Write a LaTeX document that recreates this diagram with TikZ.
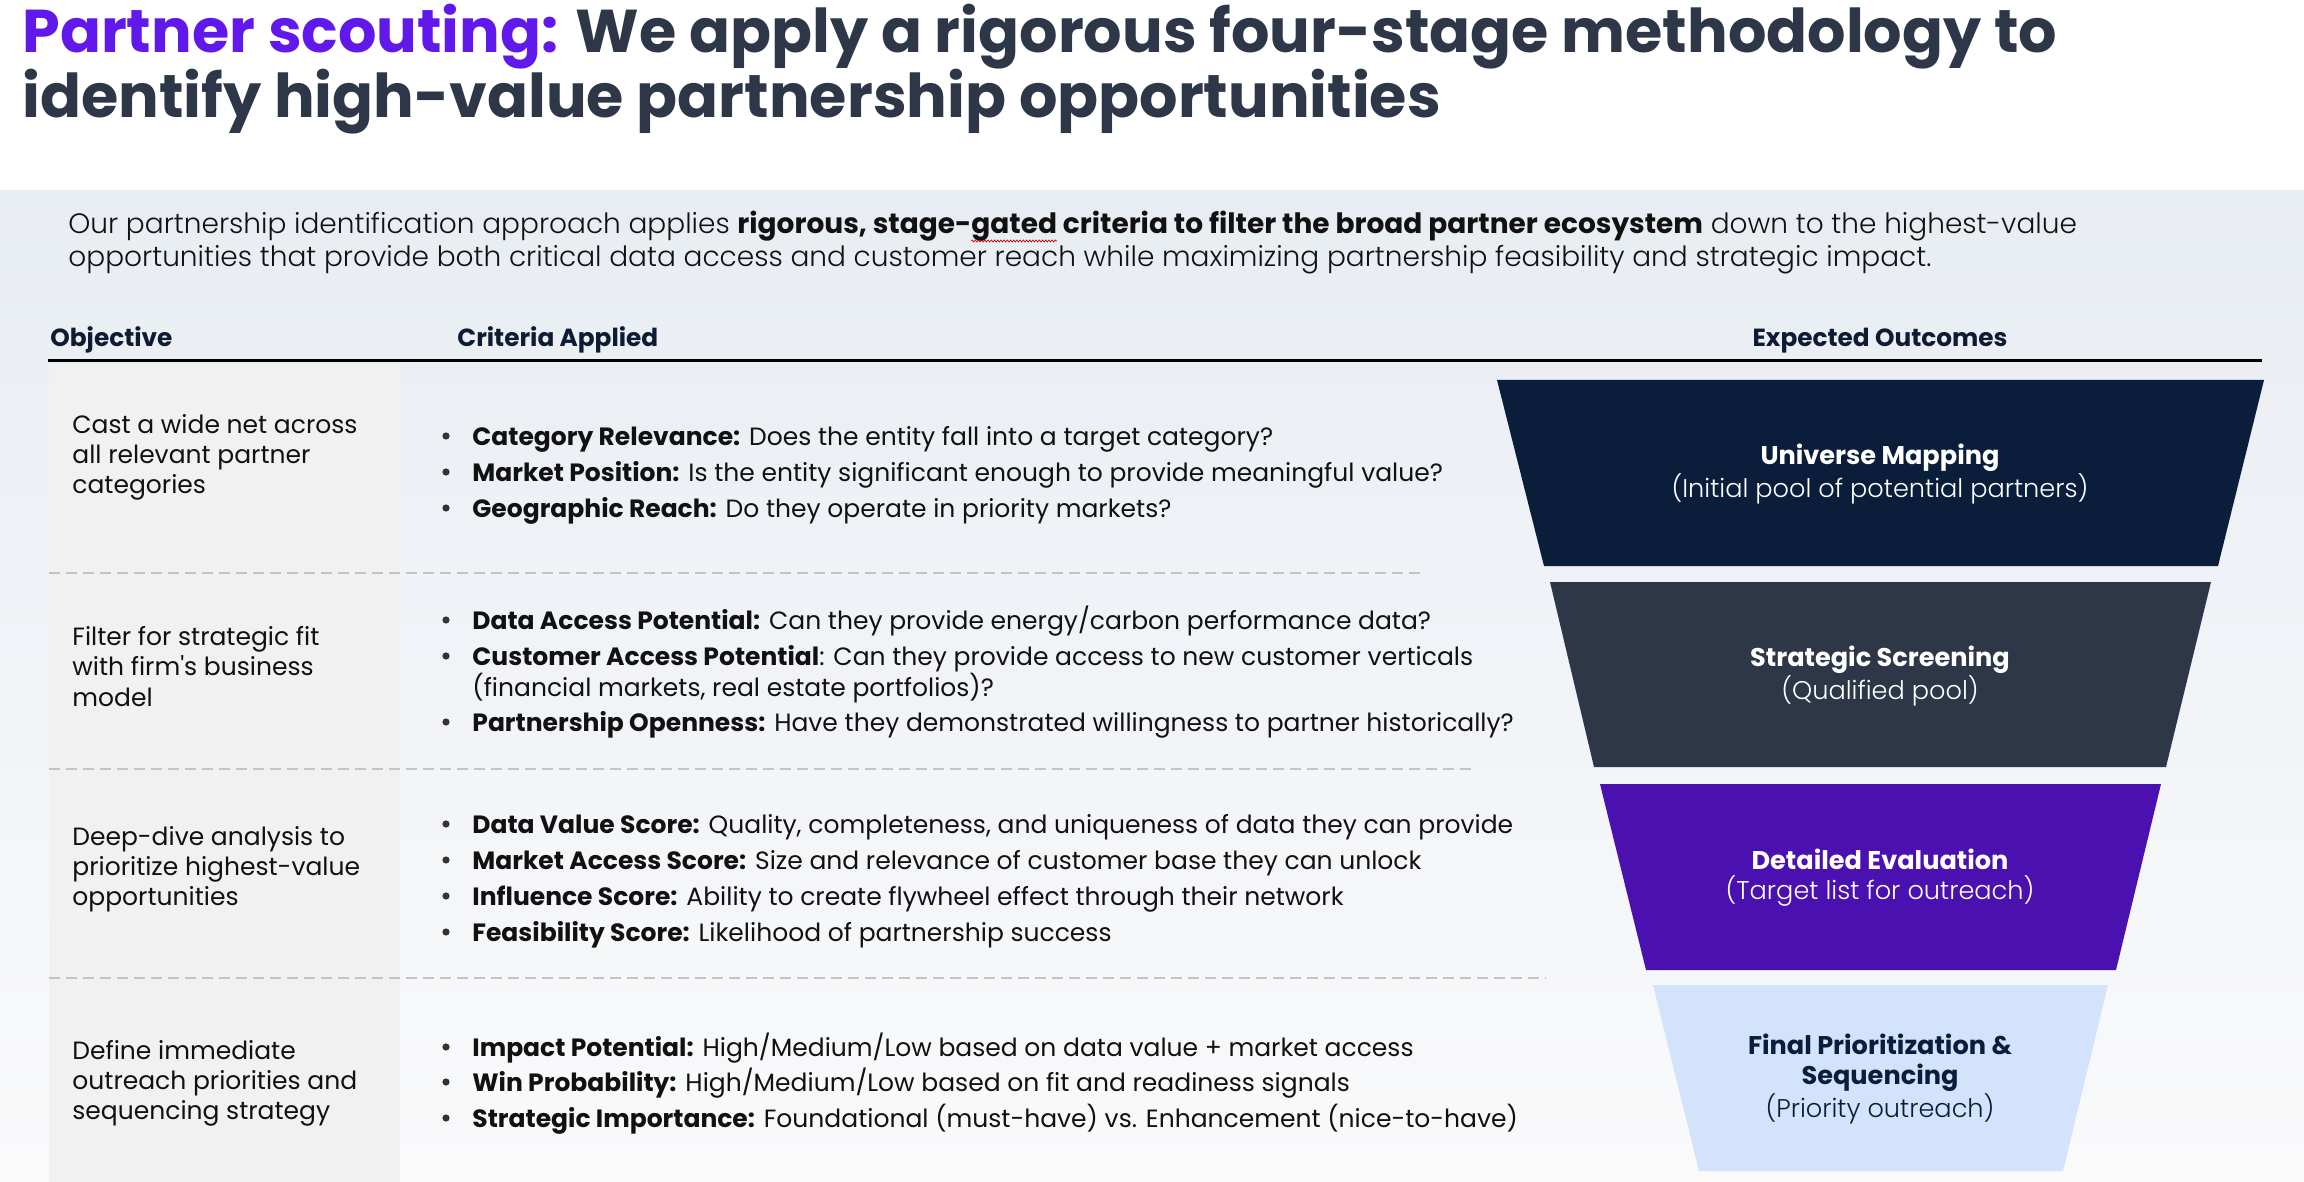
\documentclass[tikz,border=0pt]{standalone}
\usepackage{fontspec}
\setmainfont{Poppins}
\newfontfamily\plight{Poppins Light}
\newfontfamily\psemi{Poppins SemiBold}
\usetikzlibrary{decorations.pathmorphing}
\definecolor{tpurple}{HTML}{6118EA}
\definecolor{tdark}{HTML}{2D3748}
\definecolor{navy}{HTML}{0A1E3C}
\definecolor{slate}{HTML}{2D3748}
\definecolor{violet}{HTML}{4A10B0}
\definecolor{pale}{HTML}{D3E3FC}
\definecolor{hdr}{HTML}{0D1B33}
\definecolor{bodyc}{HTML}{111111}
\definecolor{dashc}{HTML}{C4C4C4}
\definecolor{paneltop}{HTML}{E8EDF3}
\definecolor{panelbot}{HTML}{FAFAFB}
\definecolor{colbox}{HTML}{F1F1F2}
\newlength\sqw
\newcommand\squig[1]{\settowidth\sqw{#1}\rlap{\tikz[overlay,baseline=0pt]\draw[red!85!black,line width=0.35pt,decorate,decoration={zigzag,amplitude=0.5pt,segment length=1.6pt}] (0pt,-3.5pt) -- (\sqw,-3.5pt);}#1}
\newcommand\lbl[1]{{\bfseries #1}}
\tikzset{
 bodytxt/.style={anchor=base west, inner sep=0pt, text=bodyc, font=\fontsize{12.5}{15}\selectfont},
 objtxt/.style={anchor=base west, inner sep=0pt, text=bodyc, font=\fontsize{12.5}{15}\selectfont},
 hdrtxt/.style={anchor=base west, inner sep=0pt, text=hdr, font=\bfseries\fontsize{12.4}{14}\selectfont},
 bul/.style={circle, fill=black!80, inner sep=0pt, minimum size=3.6pt},
 sepline/.style={dashc, line width=1pt, dash pattern=on 5.5pt off 3pt},
 funtxt/.style={align=center, font=\fontsize{12.8}{15}\selectfont, inner sep=0pt},
}
\newcommand\bitem[4]{\node[bul] (b#1) at (446,#2-9) {}; \node[bodytxt] (c#1) at (472,#2) {\lbl{#3} #4};}
\begin{document}
\begin{tikzpicture}[x=0.5pt,y=-0.5pt]
\useasboundingbox (0,0) rectangle (2304,1182);
\fill[white] (0,0) rectangle (2304,1182);
% title
\node[anchor=base west, inner sep=0pt, text=tdark, font=\bfseries\fontsize{30.2}{34}\selectfont] (title1) at (22,53) {{\color{tpurple}Partner scouting:} We apply a rigorous four-stage methodology to};
\node[anchor=base west, inner sep=0pt, text=tdark, font=\bfseries\fontsize{30.2}{34}\selectfont] (title2) at (22,118) {identify high-value partnership opportunities};
% panel
\shade[top color=paneltop, bottom color=panelbot] (0,191) rectangle (2304,1182);
\node[anchor=base west, inner sep=0pt, text=bodyc, font=\plight\fontsize{14}{16}\selectfont] (intro1) at (68,234) {Our partnership identification approach applies {\normalfont\bfseries rigorous, stage-\squig{gated} criteria to filter the broad partner ecosystem} down to the highest-value};
\node[anchor=base west, inner sep=0pt, text=bodyc, font=\plight\fontsize{14}{16}\selectfont] (intro2) at (68,267) {opportunities that provide both critical data access and customer reach while maximizing partnership feasibility and strategic impact.};
% header
\node[hdrtxt] (hobj) at (50,347) {Objective};
\node[hdrtxt] (hcrit) at (457,347) {Criteria Applied};
\node[hdrtxt, anchor=base] (hout) at (1880,347) {Expected Outcomes};
\fill[colbox] (49,364) rectangle (400,1182);
\draw[line width=1.5pt, black] (48,361) -- (2262,361);
% separators
\draw[sepline] (49,573) -- (1425,573);
\draw[sepline] (49,769) -- (1477,769);
\draw[sepline] (49,978) -- (1546,978);
% objectives
\node[objtxt] (o1a) at (72,433) {Cast a wide net across};
\node[objtxt] (o1b) at (72,464) {all relevant partner};
\node[objtxt] (o1c) at (72,494) {categories};
\node[objtxt] (o2a) at (72,645) {Filter for strategic fit};
\node[objtxt] (o2b) at (72,675) {with firm\textquotesingle s business};
\node[objtxt] (o2c) at (72,706) {model};
\node[objtxt] (o3a) at (72,845) {Deep-dive analysis to};
\node[objtxt] (o3b) at (72,875) {prioritize highest-value};
\node[objtxt] (o3c) at (72,905) {opportunities};
\node[objtxt] (o4a) at (72,1059) {Define immediate};
\node[objtxt] (o4b) at (72,1089) {outreach priorities and};
\node[objtxt] (o4c) at (72,1119) {sequencing strategy};
% criteria
\bitem{11}{445}{Category Relevance:}{Does the entity fall into a target category?}
\bitem{12}{481}{Market Position:}{Is the entity significant enough to provide meaningful value?}
\bitem{13}{517}{Geographic Reach:}{Do they operate in priority markets?}
\bitem{21}{629}{Data Access Potential:}{Can they provide energy/carbon performance data?}
\node[bul] (b22) at (446,656) {};
\node[bodytxt] (c22) at (472,665) {\lbl{Customer Access Potential}: Can they provide access to new customer verticals};
\node[bodytxt] (c22b) at (472,696) {(financial markets, real estate portfolios)?};
\bitem{23}{731}{Partnership Openness:}{Have they demonstrated willingness to partner historically?}
\bitem{31}{833}{Data Value Score:}{Quality, completeness, and uniqueness of data they can provide}
\bitem{32}{869}{Market Access Score:}{Size and relevance of customer base they can unlock}
\bitem{33}{905}{Influence Score:}{Ability to create flywheel effect through their network}
\bitem{34}{941}{Feasibility Score:}{Likelihood of partnership success}
\bitem{41}{1056}{Impact Potential:}{High/Medium/Low based on data value + market access}
\bitem{42}{1091}{Win Probability:}{High/Medium/Low based on fit and readiness signals}
\bitem{43}{1127}{Strategic Importance:}{Foundational (must-have) vs. Enhancement (nice-to-have)}
% funnel
\fill[navy] (1497,380) -- (2264,380) -- (2218,566) -- (1544,566) -- cycle;
\fill[slate] (1550,582) -- (2211,582) -- (2166,767) -- (1594,767) -- cycle;
\fill[violet] (1600,784) -- (2161,784) -- (2116,970) -- (1646,970) -- cycle;
\fill[pale] (1653,985) -- (2108,985) -- (2063,1171) -- (1699,1171) -- cycle;
\node[funtxt, text=white] (f1) at (1880,474) {{\bfseries Universe Mapping}\\{\plight (Initial pool of potential partners)}};
\node[funtxt, text=white] (f2) at (1880,676) {{\bfseries Strategic Screening}\\{\plight (Qualified pool)}};
\node[funtxt, text=white] (f3) at (1880,878) {{\bfseries Detailed Evaluation}\\{\plight (Target list for outreach)}};
\node[funtxt, text=navy] (f4) at (1880,1079) {{\bfseries Final Prioritization \&}\\{\bfseries Sequencing}\\{\plight (Priority outreach)}};
\end{tikzpicture}
\end{document}
